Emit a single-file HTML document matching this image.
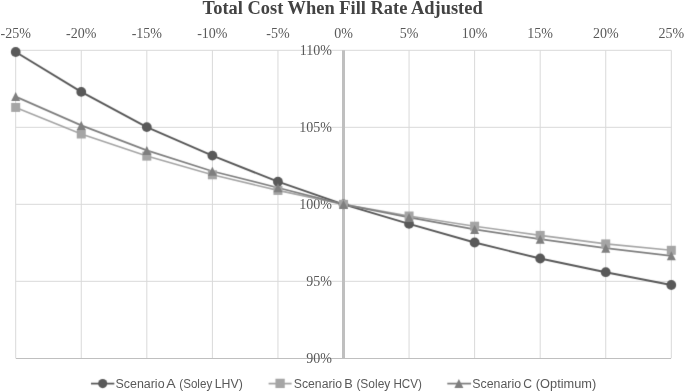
<!DOCTYPE html>
<html><head><meta charset="utf-8"><style>
html,body{margin:0;padding:0;background:#fff;}
body{width:685px;height:391px;overflow:hidden;}
svg{display:block;will-change:transform;}
.ax{font-family:"Liberation Serif",serif;font-size:14px;fill:#595959;}
.title{font-family:"Liberation Serif",serif;font-size:18.67px;font-weight:bold;fill:#434343;}
.lg{font-family:"Liberation Sans",sans-serif;font-size:12px;fill:#595959;}
</style></head><body>
<svg width="685" height="391" viewBox="0 0 685 391">
<defs><filter id="soft" x="0" y="0" width="685" height="391" filterUnits="userSpaceOnUse" color-interpolation-filters="sRGB"><feConvolveMatrix order="3" kernelMatrix="0 1 0 1 6 1 0 1 0" edgeMode="duplicate"/></filter></defs>
<line x1="15.70" y1="50.30" x2="671.30" y2="50.30" stroke="#d9d9d9" stroke-width="1"/>
<line x1="15.70" y1="127.30" x2="671.30" y2="127.30" stroke="#d9d9d9" stroke-width="1"/>
<line x1="15.70" y1="204.30" x2="671.30" y2="204.30" stroke="#d9d9d9" stroke-width="1"/>
<line x1="15.70" y1="281.30" x2="671.30" y2="281.30" stroke="#d9d9d9" stroke-width="1"/>
<line x1="15.70" y1="50.30" x2="15.70" y2="358.30" stroke="#d9d9d9" stroke-width="1"/>
<line x1="81.26" y1="50.30" x2="81.26" y2="358.30" stroke="#d9d9d9" stroke-width="1"/>
<line x1="146.82" y1="50.30" x2="146.82" y2="358.30" stroke="#d9d9d9" stroke-width="1"/>
<line x1="212.38" y1="50.30" x2="212.38" y2="358.30" stroke="#d9d9d9" stroke-width="1"/>
<line x1="277.94" y1="50.30" x2="277.94" y2="358.30" stroke="#d9d9d9" stroke-width="1"/>
<line x1="409.06" y1="50.30" x2="409.06" y2="358.30" stroke="#d9d9d9" stroke-width="1"/>
<line x1="474.62" y1="50.30" x2="474.62" y2="358.30" stroke="#d9d9d9" stroke-width="1"/>
<line x1="540.18" y1="50.30" x2="540.18" y2="358.30" stroke="#d9d9d9" stroke-width="1"/>
<line x1="605.74" y1="50.30" x2="605.74" y2="358.30" stroke="#d9d9d9" stroke-width="1"/>
<line x1="671.30" y1="50.30" x2="671.30" y2="358.30" stroke="#d9d9d9" stroke-width="1"/>
<line x1="15.90" y1="358.5" x2="671.00" y2="358.5" stroke="#bfbfbf" stroke-width="1"/>
<line x1="343.50" y1="50.30" x2="343.50" y2="358.30" stroke="#bfbfbf" stroke-width="3"/>
<text x="15.70" y="38.1" text-anchor="middle" class="ax">-25%</text>
<text x="81.26" y="38.1" text-anchor="middle" class="ax">-20%</text>
<text x="146.82" y="38.1" text-anchor="middle" class="ax">-15%</text>
<text x="212.38" y="38.1" text-anchor="middle" class="ax">-10%</text>
<text x="277.94" y="38.1" text-anchor="middle" class="ax">-5%</text>
<text x="343.50" y="38.1" text-anchor="middle" class="ax">0%</text>
<text x="409.06" y="38.1" text-anchor="middle" class="ax">5%</text>
<text x="474.62" y="38.1" text-anchor="middle" class="ax">10%</text>
<text x="540.18" y="38.1" text-anchor="middle" class="ax">15%</text>
<text x="605.74" y="38.1" text-anchor="middle" class="ax">20%</text>
<text x="671.30" y="38.1" text-anchor="middle" class="ax">25%</text>
<text x="331.9" y="54.90" text-anchor="end" class="ax">110%</text>
<text x="331.9" y="131.90" text-anchor="end" class="ax">105%</text>
<text x="331.9" y="208.90" text-anchor="end" class="ax">100%</text>
<text x="331.9" y="285.90" text-anchor="end" class="ax">95%</text>
<text x="331.9" y="362.90" text-anchor="end" class="ax">90%</text>
<g filter="url(#soft)">
<polyline points="15.70,52.00 81.26,91.90 146.82,127.10 212.38,155.60 277.94,181.70 343.50,204.40 409.06,223.90 474.62,242.50 540.18,258.50 605.74,272.20 671.30,285.00" fill="none" stroke="#595959" stroke-width="1.9" stroke-linejoin="round"/>
<polyline points="15.70,107.40 81.26,134.00 146.82,156.10 212.38,174.80 277.94,190.40 343.50,204.40 409.06,216.00 474.62,226.20 540.18,235.40 605.74,243.90 671.30,250.30" fill="none" stroke="#a5a5a5" stroke-width="1.6" stroke-linejoin="round"/>
<polyline points="15.70,96.60 81.26,125.40 146.82,150.40 212.38,171.30 277.94,187.70 343.50,204.40 409.06,217.40 474.62,229.40 540.18,239.20 605.74,248.20 671.30,255.80" fill="none" stroke="#7f7f7f" stroke-width="1.7" stroke-linejoin="round"/>
<circle cx="15.70" cy="52.00" r="4.9" fill="#595959"/>
<circle cx="81.26" cy="91.90" r="4.9" fill="#595959"/>
<circle cx="146.82" cy="127.10" r="4.9" fill="#595959"/>
<circle cx="212.38" cy="155.60" r="4.9" fill="#595959"/>
<circle cx="277.94" cy="181.70" r="4.9" fill="#595959"/>
<circle cx="343.50" cy="204.40" r="4.9" fill="#595959"/>
<circle cx="409.06" cy="223.90" r="4.9" fill="#595959"/>
<circle cx="474.62" cy="242.50" r="4.9" fill="#595959"/>
<circle cx="540.18" cy="258.50" r="4.9" fill="#595959"/>
<circle cx="605.74" cy="272.20" r="4.9" fill="#595959"/>
<circle cx="671.30" cy="285.00" r="4.9" fill="#595959"/>
<rect x="11.20" y="102.90" width="9" height="9" fill="#a5a5a5"/>
<rect x="76.76" y="129.50" width="9" height="9" fill="#a5a5a5"/>
<rect x="142.32" y="151.60" width="9" height="9" fill="#a5a5a5"/>
<rect x="207.88" y="170.30" width="9" height="9" fill="#a5a5a5"/>
<rect x="273.44" y="185.90" width="9" height="9" fill="#a5a5a5"/>
<rect x="339.00" y="199.90" width="9" height="9" fill="#a5a5a5"/>
<rect x="404.56" y="211.50" width="9" height="9" fill="#a5a5a5"/>
<rect x="470.12" y="221.70" width="9" height="9" fill="#a5a5a5"/>
<rect x="535.68" y="230.90" width="9" height="9" fill="#a5a5a5"/>
<rect x="601.24" y="239.40" width="9" height="9" fill="#a5a5a5"/>
<rect x="666.80" y="245.80" width="9" height="9" fill="#a5a5a5"/>
<polygon points="15.70,92.10 20.20,101.10 11.20,101.10" fill="#7f7f7f"/>
<polygon points="81.26,120.90 85.76,129.90 76.76,129.90" fill="#7f7f7f"/>
<polygon points="146.82,145.90 151.32,154.90 142.32,154.90" fill="#7f7f7f"/>
<polygon points="212.38,166.80 216.88,175.80 207.88,175.80" fill="#7f7f7f"/>
<polygon points="277.94,183.20 282.44,192.20 273.44,192.20" fill="#7f7f7f"/>
<polygon points="343.50,199.90 348.00,208.90 339.00,208.90" fill="#7f7f7f"/>
<polygon points="409.06,212.90 413.56,221.90 404.56,221.90" fill="#7f7f7f"/>
<polygon points="474.62,224.90 479.12,233.90 470.12,233.90" fill="#7f7f7f"/>
<polygon points="540.18,234.70 544.68,243.70 535.68,243.70" fill="#7f7f7f"/>
<polygon points="605.74,243.70 610.24,252.70 601.24,252.70" fill="#7f7f7f"/>
<polygon points="671.30,251.30 675.80,260.30 666.80,260.30" fill="#7f7f7f"/>
</g>
<text x="342.65" y="13.6" text-anchor="middle" class="title" textLength="280.1" lengthAdjust="spacingAndGlyphs">Total Cost When Fill Rate Adjusted</text>
<g filter="url(#soft)">
<line x1="91" y1="383.6" x2="114.3" y2="383.6" stroke="#595959" stroke-width="1.75"/>
<circle cx="102.70" cy="383.60" r="4.6" fill="#595959"/>
<line x1="268.6" y1="383.6" x2="291.6" y2="383.6" stroke="#a5a5a5" stroke-width="1.75"/>
<rect x="275.45" y="378.75" width="9.3" height="9.3" fill="#a5a5a5"/>
<line x1="447.3" y1="383.6" x2="471" y2="383.6" stroke="#7f7f7f" stroke-width="1.75"/>
<polygon points="458.90,378.90 463.40,387.90 454.40,387.90" fill="#7f7f7f"/>
</g>
<text x="115.48" y="388.1" class="lg" textLength="49.10" lengthAdjust="spacingAndGlyphs">Scenario</text>
<text x="166.38" y="388.1" class="lg" textLength="9.44" lengthAdjust="spacingAndGlyphs">A</text>
<text x="179.32" y="388.1" class="lg" textLength="32.89" lengthAdjust="spacingAndGlyphs">(Soley</text>
<text x="214.67" y="388.1" class="lg" textLength="28.09" lengthAdjust="spacingAndGlyphs">LHV)</text>
<text x="293.79" y="388.1" class="lg" textLength="48.28" lengthAdjust="spacingAndGlyphs">Scenario</text>
<text x="344.34" y="388.1" class="lg" textLength="8.50" lengthAdjust="spacingAndGlyphs">B</text>
<text x="356.40" y="388.1" class="lg" textLength="33.91" lengthAdjust="spacingAndGlyphs">(Soley</text>
<text x="393.43" y="388.1" class="lg" textLength="28.48" lengthAdjust="spacingAndGlyphs">HCV)</text>
<text x="472.28" y="388.1" class="lg" textLength="48.79" lengthAdjust="spacingAndGlyphs">Scenario</text>
<text x="523.39" y="388.1" class="lg" textLength="8.78" lengthAdjust="spacingAndGlyphs">C</text>
<text x="535.85" y="388.1" class="lg" textLength="60.36" lengthAdjust="spacingAndGlyphs">(Optimum)</text>
</svg>
</body></html>
